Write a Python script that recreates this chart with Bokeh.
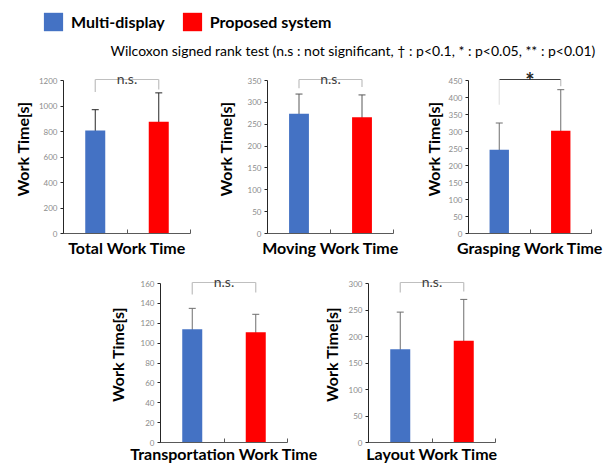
from bokeh.plotting import figure
from bokeh.models import (Range1d, FixedTicker, Whisker, TeeHead, ColumnDataSource,
                          Label, Legend, LegendItem, Spacer)
from bokeh.layouts import column, row
from bokeh.embed import file_html
from bokeh.resources import INLINE

# ---------------- data ----------------
conditions = ["Multi-display", "Proposed system"]
bar_colors = ["#4472C4", "#FF0000"]

panel_titles = ["Total Work Time", "Moving Work Time", "Grasping Work Time",
                "Transportation Work Time", "Layout Work Time"]

total_mean = [808, 876]
total_lower = [655, 655]
total_upper = [971, 1103]

moving_mean = [274, 266]
moving_lower = [232, 217]
moving_upper = [319, 317]

grasping_mean = [246, 302]
grasping_lower = [165, 182]
grasping_upper = [325, 423]

transport_mean = [114, 111]
transport_lower = [94, 93]
transport_upper = [135, 129]

layout_mean = [176, 192]
layout_lower = [105, 115]
layout_upper = [246, 270]

y_max = [1200, 350, 450, 160, 300]
y_step = [200, 50, 50, 20, 50]
significance = ["n.s.", "n.s.", "*", "n.s.", "n.s."]
bracket_leg_left = [1110, 332, 379, 149, 283]
bracket_leg_right = [1130, 335, 433, 151, 285]

legend_note = ("Wilcoxon signed rank test (n.s : not significant, \u2020 : p<0.1, "
               "* : p<0.05, ** : p<0.01)")

FONT = "Lato"


def panel(i, mean, lower, upper, frame_w, axis_h, extra_h, mb_left, mb_right, mb_top,
          mb_bottom, ylab_standoff, xlab_standoff, err_color):
    ymax = y_max[i]
    upp = ymax / axis_h            # data units per pixel
    frame_h = axis_h + extra_h
    p = figure(frame_width=frame_w, frame_height=frame_h,
               x_range=Range1d(0, 2), y_range=Range1d(0, ymax + extra_h * upp),
               min_border_left=mb_left, min_border_right=mb_right,
               min_border_top=mb_top, min_border_bottom=mb_bottom,
               toolbar_location=None, output_backend="svg")
    p.grid.visible = False
    p.outline_line_color = None

    src = ColumnDataSource(dict(x=[0.5, 1.5], top=mean, lower=lower, upper=upper,
                                color=bar_colors, name=conditions))
    p.vbar(x="x", top="top", width=0.315, fill_color="color", line_color=None,
           source=src)
    w = Whisker(base="x", upper="upper", lower="lower", source=src,
                line_color=err_color, line_width=1,
                upper_head=TeeHead(size=7, line_color=err_color, line_width=1),
                lower_head=TeeHead(size=7, line_color=err_color, line_width=1))
    p.add_layout(w)

    # significance bracket
    top = ymax + 1 * upp
    sig = significance[i]
    if sig == "*":
        seg_colors = ["#404040", "#e3e3e3", "#bfbfbf"]
    else:
        seg_colors = ["#bfbfbf", "#bfbfbf", "#bfbfbf"]
    bsrc = ColumnDataSource(dict(x0=[0.5, 0.5, 1.5], x1=[1.5, 0.5, 1.5],
                                 y0=[top, top, top],
                                 y1=[top, bracket_leg_left[i], bracket_leg_right[i]],
                                 c=seg_colors))
    p.segment(x0="x0", y0="y0", x1="x1", y1="y1", line_color="c", line_width=1.2,
              source=bsrc)
    if sig == "*":
        lab = Label(x=1, y=top - 1 * upp, text=sig, text_align="center",
                    text_baseline="alphabetic", text_font=FONT, text_font_style="bold",
                    text_font_size="22px", text_color="#222222")
    else:
        lab = Label(x=1, y=top + 1.5 * upp, text=sig, text_align="center",
                    text_baseline="alphabetic", text_font=FONT,
                    text_font_size="14px", text_color="#404040")
    p.add_layout(lab)

    # x axis
    xa = p.xaxis[0]
    xa.ticker = FixedTicker(ticks=[0, 1, 2])
    xa.major_label_overrides = {0: "", 1: "", 2: ""}
    xa.major_tick_in = 4
    xa.major_tick_out = 0
    xa.minor_tick_in = 0
    xa.minor_tick_out = 0
    xa.major_label_text_font_size = "0px"
    xa.major_label_standoff = 0
    xa.axis_line_color = "#595959"
    xa.major_tick_line_color = "#595959"
    xa.axis_label = panel_titles[i]
    xa.axis_label_text_font = FONT
    xa.axis_label_text_font_style = "bold"
    xa.axis_label_text_font_size = "16px"
    xa.axis_label_text_color = "black"
    xa.axis_label_standoff = xlab_standoff

    # y axis
    ya = p.yaxis[0]
    ya.bounds = (0, ymax)
    ya.ticker = FixedTicker(ticks=list(range(0, ymax + 1, y_step[i])))
    ya.major_tick_out = 3
    ya.major_tick_in = 0
    ya.minor_tick_in = 0
    ya.minor_tick_out = 0
    ya.axis_line_color = "#262626"
    ya.major_tick_line_color = "#262626"
    ya.major_label_text_font = FONT
    ya.major_label_text_font_size = "8px"
    ya.major_label_text_color = "#8c8c8c"
    ya.major_label_standoff = 3
    ya.axis_label = "Work Time[s]"
    ya.axis_label_text_font = FONT
    ya.axis_label_text_font_style = "bold"
    ya.axis_label_text_font_size = "16px"
    ya.axis_label_text_color = "black"
    ya.axis_label_standoff = ylab_standoff
    return p


# ---------------- header (legend + note) ----------------
hdr = figure(width=610, height=58, x_range=Range1d(0, 1), y_range=Range1d(0, 1),
             toolbar_location=None, output_backend="svg", min_border=0)
hdr.axis.visible = False
hdr.grid.visible = False
hdr.outline_line_color = None
items = []
for name, c in zip(conditions, bar_colors):
    r = hdr.vbar(x=[10], top=[0.5], width=0.1, fill_color=c, line_color=None)
    items.append(LegendItem(label=name, renderers=[r]))
leg = Legend(items=items, orientation="horizontal", location=(41, 25),
             glyph_width=24, glyph_height=23, label_standoff=6, spacing=15,
             padding=0, margin=0, border_line_color=None, background_fill_alpha=0,
             label_text_font=FONT, label_text_font_style="bold",
             label_text_font_size="16px", label_text_color="black")
hdr.add_layout(leg)
hdr.add_layout(Label(x=110, y=8, x_units="screen", y_units="screen", text=legend_note,
                     text_baseline="middle", text_font=FONT, text_font_size="14px",
                     text_color="black"))

# ---------------- panels ----------------
#            i  mean           lower           upper          fw  ah  ex  mbl mbr mbt mbb yls xls
p1 = panel(0, total_mean, total_lower, total_upper, 127, 153, 16, 63, 10, 6, 29, 4, 4, "#262626")
p2 = panel(1, moving_mean, moving_lower, moving_upper, 126, 153, 16, 67, 7, 6, 29, 10, 4, "#595959")
p3 = panel(2, grasping_mean, grasping_lower, grasping_upper, 123, 153, 16, 68, 19, 6, 29, 3, 4, "#6e6e6e")
p4 = panel(3, transport_mean, transport_lower, transport_upper, 127, 159, 17, 60, 31, 4, 21, 11, 1, "#6e6e6e")
p5 = panel(4, layout_mean, layout_lower, layout_upper, 127, 159, 17, 50, 20, 4, 21, 5, 1, "#6e6e6e")

layout = column(hdr, row(p1, p2, p3), row(Spacer(width=100, height=10), p4, p5))

open("out.html", "w").write(file_html(layout, INLINE))
